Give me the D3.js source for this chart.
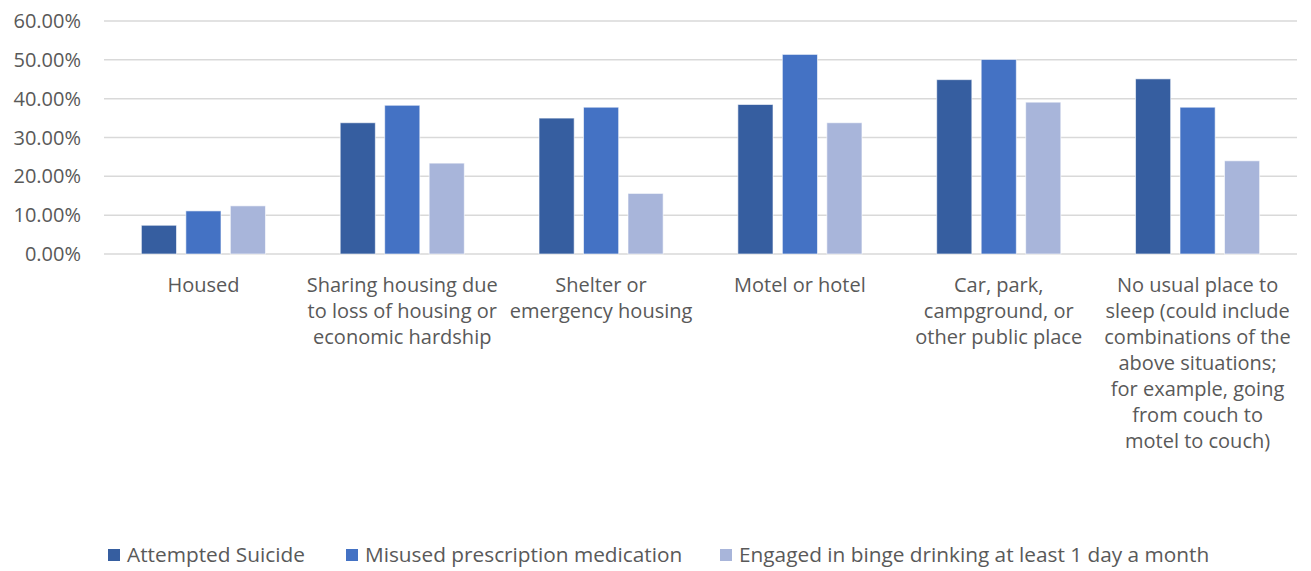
<!DOCTYPE html>
<html>
<head>
<meta charset="utf-8">
<script src="https://cdn.jsdelivr.net/npm/d3@7"></script>
<style>
  body { margin: 0; background: #fff; }
  svg text { font-family: "Open Sans", Lato, sans-serif; fill: #595959; }
</style>
</head>
<body>
<svg id="chart" width="1311" height="571"></svg>
<script>
// data
const categories = [
  ["Housed"],
  ["Sharing housing due", "to loss of housing or", "economic hardship"],
  ["Shelter or", "emergency housing"],
  ["Motel or hotel"],
  ["Car, park,", "campground, or", "other public place"],
  ["No usual place to", "sleep (could include", "combinations of the", "above situations;", "for example, going", "from couch to", "motel to couch)"]
];
const seriesNames = [
  "Attempted Suicide",
  "Misused prescription medication",
  "Engaged in binge drinking at least 1 day a month"
];
const attemptedSuicide = [0.074, 0.338, 0.350, 0.385, 0.449, 0.451];
const misusedMedication = [0.111, 0.383, 0.378, 0.514, 0.501, 0.378];
const bingeDrinking = [0.124, 0.234, 0.156, 0.338, 0.391, 0.240];
const yTicks = [0, 0.1, 0.2, 0.3, 0.4, 0.5, 0.6];
const colors = ["#365EA0", "#4472C4", "#A8B5DA"];

const series = [attemptedSuicide, misusedMedication, bingeDrinking];

const svg = d3.select("#chart");
const margin = { top: 21, left: 104, right: 14, bottom: 317 };
const W = 1311, H = 571;

const x = d3.scaleBand()
  .domain(d3.range(categories.length))
  .range([margin.left, W - margin.right])
  .paddingInner(0)
  .paddingOuter(0);

const x1 = d3.scaleBand()
  .domain(d3.range(series.length))
  .range([0, x.bandwidth()])
  .paddingInner(0.21)
  .paddingOuter(0.84);

const y = d3.scaleLinear()
  .domain([0, 0.6])
  .range([H - margin.bottom, margin.top]);

// gridlines
svg.append("g")
  .selectAll("line")
  .data(yTicks)
  .join("line")
  .attr("x1", margin.left)
  .attr("x2", W - margin.right)
  .attr("y1", d => y(d))
  .attr("y2", d => y(d))
  .attr("stroke", "#D9D9D9")
  .attr("stroke-width", 1.5);

// y axis labels
const fmt = d3.format(".2%");
svg.append("g")
  .selectAll("text")
  .data(yTicks)
  .join("text")
  .attr("x", 81)
  .attr("y", d => y(d))
  .attr("dy", "0.35em")
  .attr("text-anchor", "end")
  .attr("font-size", 20)
  .text(d => fmt(d));

// bars
const groups = svg.append("g")
  .selectAll("g")
  .data(categories.map((c, i) => i))
  .join("g")
  .attr("transform", i => `translate(${x(i)},0)`);

groups.selectAll("rect")
  .data(i => series.map((s, j) => ({ j, v: s[i] })))
  .join("rect")
  .attr("x", d => x1(d.j))
  .attr("width", x1.bandwidth())
  .attr("y", d => y(d.v))
  .attr("height", d => y(0) - y(d.v))
  .attr("fill", d => colors[d.j])
  .attr("stroke", "#fff")
  .attr("stroke-opacity", 0.6)
  .attr("stroke-width", 1);

// category labels
const labels = svg.append("g")
  .selectAll("text")
  .data(categories)
  .join("text")
  .attr("x", (d, i) => x(i) + x.bandwidth() / 2)
  .attr("y", 292)
  .attr("text-anchor", "middle")
  .attr("font-size", 20);

labels.selectAll("tspan")
  .data(d => d)
  .join("tspan")
  .attr("x", function () { return d3.select(this.parentNode).attr("x"); })
  .attr("dy", (d, i) => i === 0 ? 0 : 26)
  .text(d => d);

// legend
const legendX = [108, 346, 720];
const legend = svg.append("g")
  .selectAll("g")
  .data(seriesNames)
  .join("g")
  .attr("transform", (d, i) => `translate(${legendX[i]},555)`);

legend.append("rect")
  .attr("x", 0)
  .attr("y", -6)
  .attr("width", 12)
  .attr("height", 12)
  .attr("fill", (d, i) => colors[i]);

legend.append("text")
  .attr("x", 19)
  .attr("dy", "0.35em")
  .attr("font-size", 20.8)
  .text(d => d);
</script>
</body>
</html>
